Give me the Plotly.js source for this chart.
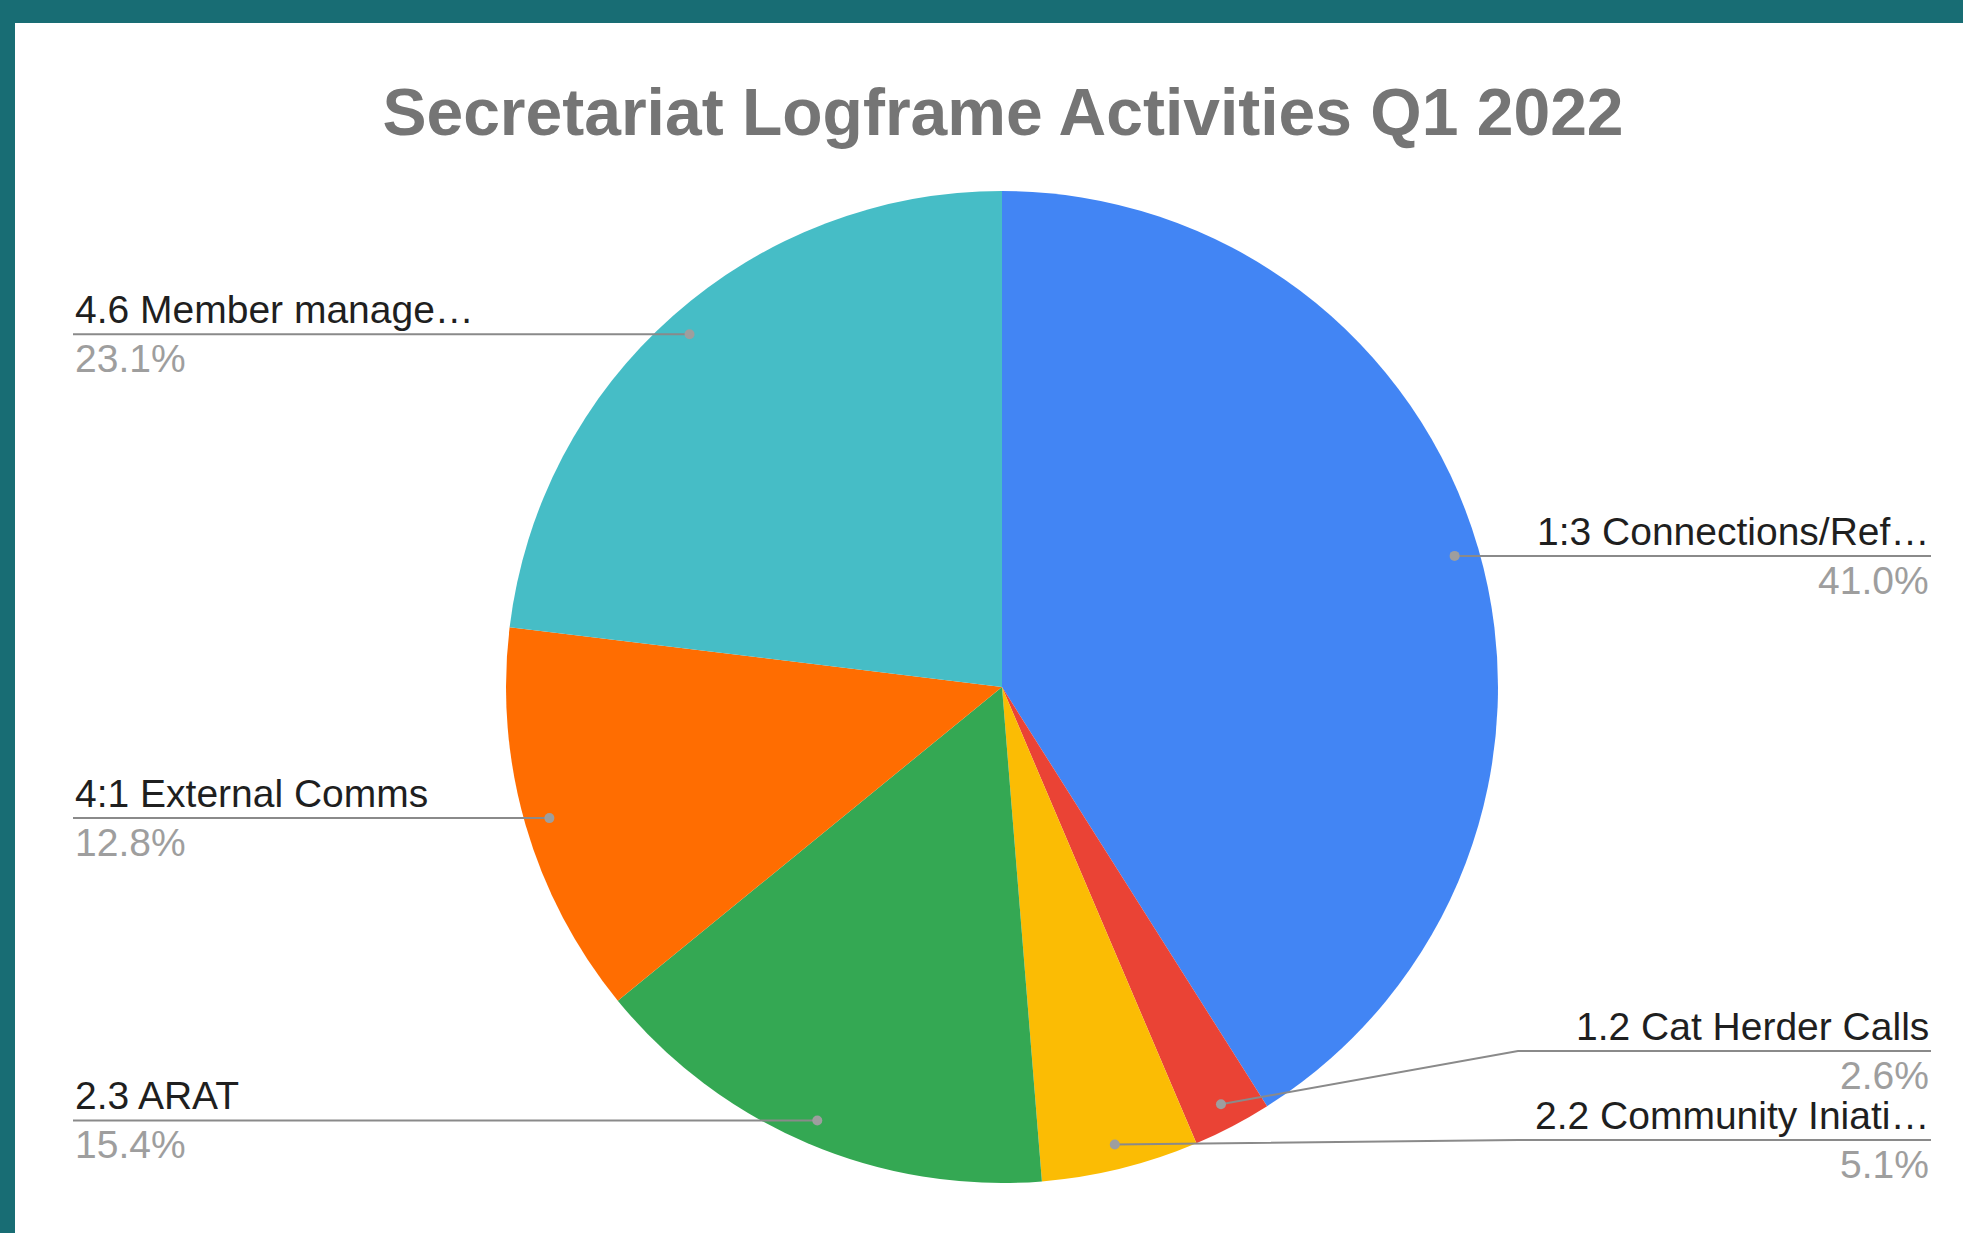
<!DOCTYPE html>
<html>
<head>
<meta charset="utf-8">
<script src="https://cdn.plot.ly/plotly-3.0.1.min.js"></script>
<style>
html,body{margin:0;padding:0;background:#186d74;width:1963px;height:1233px;overflow:hidden}
#chart{position:absolute;left:15px;top:23px;width:1948px;height:1210px;background:#ffffff}
</style>
</head>
<body>
<div id="chart"></div>
<script>
// ---- data ----
const chartTitle = 'Secretariat Logframe Activities Q1 2022';
const categories = ['1:3 Connections/Ref…', '1.2 Cat Herder Calls', '2.2 Community Iniati…', '2.3 ARAT', '4:1 External Comms', '4.6 Member manage…'];
const counts = [16, 1, 2, 6, 5, 9];
const sliceColors = ['#4285F4', '#EA4335', '#FBBC04', '#34A853', '#FF6D01', '#46BDC6'];

// ---- layout constants (plot pixels) ----
const W = 1948, H = 1210;
const CX = 987, CY = 664, R = 496;
const DOT_FRAC = 0.95;
const RIGHT_END = 1916, LEFT_START = 58;
const GAP = 89, MAX_LINE_Y = 1117, MIN_LINE_Y = 200;
const FONT = '"Liberation Sans", Arial, sans-serif';
const LABEL_SIZE = 39;

const px = x => x / W;
const py = y => 1 - y / H;

const total = counts.reduce((a, b) => a + b, 0);
let cum = 0;
const items = counts.map((v, i) => {
  const mid = (cum + v / 2) / total;
  cum += v;
  const th = 2 * Math.PI * mid;
  const dx = CX + DOT_FRAC * R * Math.sin(th);
  const dy = CY - DOT_FRAC * R * Math.cos(th);
  return { i, dx, dy, ly: dy, side: Math.sin(th) >= 0 ? 'right' : 'left' };
});

['right', 'left'].forEach(side => {
  const arr = items.filter(o => o.side === side).sort((a, b) => a.dy - b.dy);
  if (!arr.length) return;
  arr[0].ly = Math.max(arr[0].ly, MIN_LINE_Y);
  for (let k = 1; k < arr.length; k++) arr[k].ly = Math.max(arr[k].ly, arr[k - 1].ly + GAP);
  arr[arr.length - 1].ly = Math.min(arr[arr.length - 1].ly, MAX_LINE_Y);
  for (let k = arr.length - 2; k >= 0; k--) arr[k].ly = Math.min(arr[k].ly, arr[k + 1].ly - GAP);
});

const shapes = [];
const annotations = [];
items.forEach(o => {
  const right = o.side === 'right';
  const elbowX = right ? CX + R + 20 : CX - R - 20;
  const endX = right ? RIGHT_END : LEFT_START;
  shapes.push({
    type: 'path', xref: 'paper', yref: 'paper',
    path: `M ${px(o.dx)},${py(o.dy)} L ${px(elbowX)},${py(o.ly)} L ${px(endX)},${py(o.ly)}`,
    line: { color: '#8a8a8a', width: 2 }
  });
  shapes.push({
    type: 'circle', xref: 'paper', yref: 'paper',
    x0: px(o.dx - 5), x1: px(o.dx + 5), y0: py(o.dy + 5), y1: py(o.dy - 5),
    fillcolor: '#9e9e9e', line: { width: 0 }
  });
  annotations.push({
    xref: 'paper', yref: 'paper', x: px(endX), y: py(o.ly - 1),
    xanchor: right ? 'right' : 'left', yanchor: 'bottom', showarrow: false,
    text: categories[o.i], font: { family: FONT, size: LABEL_SIZE, color: '#1f1f1f' }
  });
  annotations.push({
    xref: 'paper', yref: 'paper', x: px(endX), y: py(o.ly + 1),
    xanchor: right ? 'right' : 'left', yanchor: 'top', showarrow: false,
    text: (counts[o.i] / total * 100).toFixed(1) + '%',
    font: { family: FONT, size: LABEL_SIZE, color: '#9e9e9e' }
  });
});

const trace = {
  type: 'pie',
  labels: categories,
  values: counts,
  marker: { colors: sliceColors, line: { width: 0 } },
  sort: false,
  direction: 'clockwise',
  rotation: 0,
  textinfo: 'none',
  hoverinfo: 'label+percent',
  showlegend: false,
  domain: { x: [px(CX - R), px(CX + R)], y: [py(CY + R), py(CY - R)] }
};

const layout = {
  width: W, height: H,
  margin: { l: 0, r: 0, t: 0, b: 0 },
  paper_bgcolor: '#ffffff',
  showlegend: false,
  title: {
    text: '<b>' + chartTitle + '</b>',
    font: { family: FONT, size: 66, color: '#757575' },
    x: px(988), xanchor: 'center', xref: 'container',
    y: py(89), yanchor: 'middle', yref: 'container'
  },
  shapes, annotations
};

Plotly.newPlot('chart', [trace], layout, { displayModeBar: false, staticPlot: true });
</script>
</body>
</html>
